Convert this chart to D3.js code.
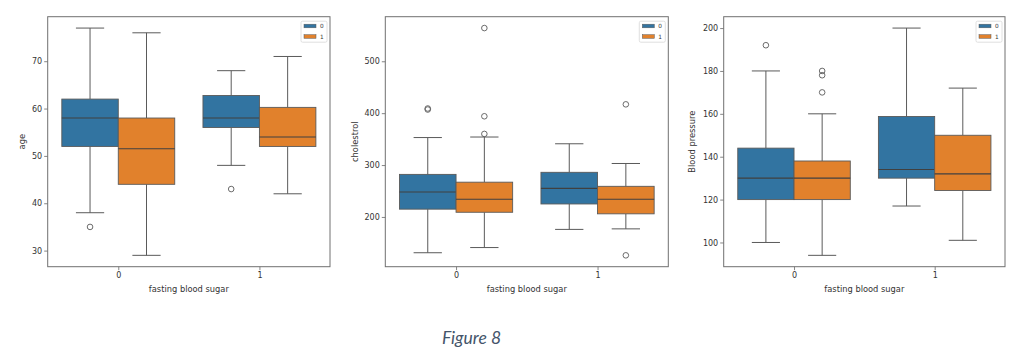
<!DOCTYPE html>
<html><head><meta charset="utf-8">
<script src="https://cdn.jsdelivr.net/npm/d3@7"></script>
<style>
html,body{margin:0;padding:0;background:#fff;}
svg{display:block;}
</style></head>
<body>
<svg id="chart" width="1024" height="355"></svg>
<script>
// ---- data ----
const categories = ["0", "1"];          // fasting blood sugar
const hueLevels = ["0", "1"];           // legend levels
const hueColors = ["#3274a1", "#e1812c"];

// each entry: [whisker low, Q1, median, Q3, whisker high], order: (fbs0,h0),(fbs0,h1),(fbs1,h0),(fbs1,h1)
const ageStats = [[38, 52, 58, 62, 77], [29, 44, 51.5, 58, 76], [48, 56, 58, 62.75, 68], [42, 52, 54, 60.25, 71]];
const ageOutliers = [[35], [], [43], []];
const ageTicks = [30, 40, 50, 60, 70];

const cholStats = [[131, 215, 248, 282, 353], [141, 209, 234, 267, 354], [176, 225, 255, 286, 341], [177, 206, 234, 259, 303]];
const cholOutliers = [[407, 409], [360, 394, 564], [], [126, 417]];
const cholTicks = [200, 300, 400, 500];

const bpStats = [[100, 120, 130, 144, 180], [94, 120, 130, 138, 160], [117, 130, 134, 158.75, 200], [101, 124.25, 132, 150, 172]];
const bpOutliers = [[192], [170, 178, 180], [], []];
const bpTicks = [100, 120, 140, 160, 180, 200];

const yLabels = ["age", "cholestrol", "Blood pressure"];
const xLabel = "fasting blood sugar";
const caption = "Figure 8";

// ---- layout ----
const panels = [
  {stats: ageStats, out: ageOutliers, ticks: ageTicks, label: yLabels[0], left: 47.7, right: 330, ylab: 22},
  {stats: cholStats, out: cholOutliers, ticks: cholTicks, label: yLabels[1], left: 385.3, right: 668.3, ylab: 355},
  {stats: bpStats, out: bpOutliers, ticks: bpTicks, label: yLabels[2], left: 723.7, right: 1005, ylab: 692}
];
const plotTop = 16.7, plotBottom = 266.7;
const svg = d3.select("#chart");
const font = "'DejaVu Sans', sans-serif";
const lineCol = "#5a5a5a";

panels.forEach(p => {
  const all = p.stats.flat().concat(p.out.flat());
  const [mn, mx] = d3.extent(all);
  const pad = (mx - mn) * 0.05;
  const y = d3.scaleLinear().domain([mn - pad, mx + pad]).range([plotBottom, plotTop]);
  const x = d3.scaleLinear().domain([-0.5, 1.5]).range([p.left, p.right]);
  const g = svg.append("g");

  // axes
  const yAxis = d3.axisLeft(y).tickValues(p.ticks).tickSize(3.5).tickPadding(2);
  const ya = g.append("g").attr("transform", `translate(${p.left},0)`).call(yAxis);
  const xAxis = d3.axisBottom(x).tickValues([0, 1]).tickFormat((d, i) => categories[i]).tickSize(3.5).tickPadding(2.5);
  const xa = g.append("g").attr("transform", `translate(0,${plotBottom})`).call(xAxis);
  [ya, xa].forEach(a => {
    a.select(".domain").remove();
    a.selectAll(".tick line").attr("stroke", "#666").attr("stroke-width", 0.8);
    a.selectAll(".tick text").attr("fill", "#333").style("font-family", font).style("font-size", "8px");
  });

  // boxes
  const boxW = 0.4;
  p.stats.forEach((s, i) => {
    const cat = Math.floor(i / 2), h = i % 2;
    const cx = cat + (h === 0 ? -0.2 : 0.2);
    const x0 = x(cx - boxW / 2), x1 = x(cx + boxW / 2), xc = x(cx);
    const capHalf = (x1 - x0) / 4;
    const bg = g.append("g");
    // whiskers
    bg.append("line").attr("x1", xc).attr("x2", xc).attr("y1", y(s[0])).attr("y2", y(s[1])).attr("stroke", lineCol).attr("stroke-width", 1);
    bg.append("line").attr("x1", xc).attr("x2", xc).attr("y1", y(s[3])).attr("y2", y(s[4])).attr("stroke", lineCol).attr("stroke-width", 1);
    bg.append("line").attr("x1", xc - capHalf).attr("x2", xc + capHalf).attr("y1", y(s[0])).attr("y2", y(s[0])).attr("stroke", lineCol).attr("stroke-width", 1);
    bg.append("line").attr("x1", xc - capHalf).attr("x2", xc + capHalf).attr("y1", y(s[4])).attr("y2", y(s[4])).attr("stroke", lineCol).attr("stroke-width", 1);
    // box
    bg.append("rect").attr("x", x0).attr("y", y(s[3])).attr("width", x1 - x0).attr("height", y(s[1]) - y(s[3]))
      .attr("fill", hueColors[h]).attr("stroke", lineCol).attr("stroke-width", 0.9);
    // median
    bg.append("line").attr("x1", x0).attr("x2", x1).attr("y1", y(s[2])).attr("y2", y(s[2])).attr("stroke", "#404040").attr("stroke-width", 1.1);
    // outliers
    bg.selectAll("circle").data(p.out[i]).enter().append("circle")
      .attr("cx", xc).attr("cy", d => y(d)).attr("r", 2.8)
      .attr("fill", "none").attr("stroke", lineCol).attr("stroke-width", 0.9);
  });

  // frame
  g.append("rect").attr("x", p.left).attr("y", plotTop).attr("width", p.right - p.left).attr("height", plotBottom - plotTop)
    .attr("fill", "none").attr("stroke", "#707070").attr("stroke-width", 1);

  // labels
  g.append("text").attr("x", (p.left + p.right) / 2).attr("y", 292).attr("text-anchor", "middle")
    .style("font-family", font).style("font-size", "8.3px").attr("fill", "#333").text(xLabel);
  g.append("text").attr("transform", `translate(${p.ylab},${(plotTop + plotBottom) / 2}) rotate(-90)`).attr("text-anchor", "middle")
    .attr("dy", "0.35em").style("font-family", font).style("font-size", "8.3px").attr("fill", "#333").text(p.label);

  // legend
  const lx = p.right - 29, ly = plotTop + 4.5;
  const lg = g.append("g");
  lg.append("rect").attr("x", lx).attr("y", ly).attr("width", 26).attr("height", 21).attr("rx", 1.5)
    .attr("fill", "#fff").attr("stroke", "#d8d8d8").attr("stroke-width", 0.8);
  hueLevels.forEach((lv, k) => {
    lg.append("rect").attr("x", lx + 3).attr("y", ly + 3 + k * 10.5).attr("width", 12).attr("height", 3.6)
      .attr("fill", hueColors[k]).attr("stroke", lineCol).attr("stroke-width", 0.5);
    lg.append("text").attr("x", lx + 19).attr("y", ly + 4.8 + k * 10.5).attr("dy", "0.35em")
      .style("font-family", font).style("font-size", "5.8px").attr("fill", "#333").text(lv);
  });
});

// caption
svg.append("text").attr("x", 471.5).attr("y", 344).attr("text-anchor", "middle")
  .style("font-family", "Lato, 'Open Sans', sans-serif").style("font-style", "italic").style("font-size", "17.5px")
  .attr("fill", "#44546a").text(caption);
</script>
</body></html>
